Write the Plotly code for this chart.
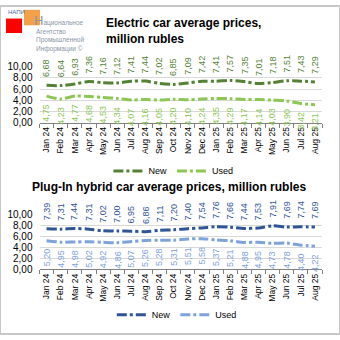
import plotly.graph_objects as go

months = ["Jan 24", "Feb 24", "Mar 24", "Apr 24", "May 24", "Jun 24", "Jul 24", "Aug 24",
          "Sep 24", "Oct 24", "Nov 24", "Dec 24", "Jan 25", "Feb 25", "Mar 25", "Apr 25",
          "May 25", "Jun 25", "Jul 25", "Aug 25"]

ev_new = [6.68, 6.64, 6.93, 7.36, 7.16, 7.12, 7.41, 7.44, 7.02, 6.85,
          7.09, 7.42, 7.41, 7.57, 7.35, 7.01, 7.18, 7.51, 7.43, 7.29]
ev_used = [4.75, 4.23, 4.77, 4.68, 4.53, 4.34, 4.07, 4.16, 4.05, 4.20,
           4.10, 4.24, 4.35, 4.29, 4.17, 4.14, 4.03, 3.90, 3.42, 3.21]
phev_new = [7.39, 7.31, 7.44, 7.31, 7.02, 7.00, 6.95, 6.86, 7.11, 7.20,
            7.40, 7.54, 7.76, 7.66, 7.44, 7.53, 7.91, 7.69, 7.74, 7.69]
phev_used = [5.20, 4.95, 4.98, 5.02, 4.92, 4.86, 5.07, 5.26, 5.28, 5.31,
             5.51, 5.58, 5.37, 5.21, 4.88, 4.95, 4.73, 4.78, 4.40, 4.22]

y_ticks = [0, 2, 4, 6, 8, 10]

title_top = "Electric car average prices,<br>million rubles"
title_bottom = "Plug-In hybrid car average prices, million rubles"

C_EV_NEW = "#548235"
C_EV_USED = "#8cc653"
C_PH_NEW = "#2f5597"
C_PH_USED = "#7ea2dc"

FONT = "Liberation Sans, Arial, sans-serif"
DASH = "10px,3px,3px,3px"
W, H = 340, 340


def px_x(p):
    return p / W


def px_y(p):
    return 1 - p / H


fig = go.Figure()

series = [
    (ev_new, "New", C_EV_NEW, "x", "y", "legend", True),
    (ev_used, "Used", C_EV_USED, "x", "y", "legend", False),
    (phev_new, "New", C_PH_NEW, "x2", "y2", "legend2", True),
    (phev_used, "Used", C_PH_USED, "x2", "y2", "legend2", False),
]

annotations = []
for vals, name, col, xa, ya, leg, above in series:
    fig.add_trace(go.Scatter(
        x=months, y=vals, name=name, mode="lines", xaxis=xa, yaxis=ya, legend=leg,
        line=dict(color=col, width=3, dash=DASH, shape="spline", smoothing=0.8),
        hoverinfo="skip",
    ))
    for m, v in zip(months, vals):
        annotations.append(dict(
            x=m, y=v, xref=xa, yref=ya, text=f"{v:.2f}".replace(".", ","),
            showarrow=False, textangle=-90,
            yanchor="bottom" if above else "top",
            yshift=7 if above else -7,
            font=dict(family=FONT, size=9, color=col),
            borderpad=0,
        ))

# titles
annotations.append(dict(
    xref="paper", yref="paper", x=px_x(104), y=px_y(8), xanchor="left", yanchor="top",
    align="left", showarrow=False, text="<b>" + title_top + "</b>",
    font=dict(family=FONT, size=12, color="#000000"),
))
annotations.append(dict(
    xref="paper", yref="paper", x=px_x(169), y=px_y(188), xanchor="center", yanchor="middle",
    showarrow=False, text="<b>" + title_bottom + "</b>",
    font=dict(family=FONT, size=12, color="#000000"),
))

# logo text
annotations.append(dict(
    xref="paper", yref="paper", x=px_x(6), y=px_y(6), xanchor="left", yanchor="middle",
    showarrow=False, text="НАПИ", font=dict(family=FONT, size=6, color="#4a6a9a"),
))
annotations.append(dict(
    xref="paper", yref="paper", x=px_x(32), y=px_y(15), xanchor="left", yanchor="middle",
    showarrow=False, text="<span style='font-size:13px'>Н</span>ациональное",
    font=dict(family=FONT, size=6.5, color="#8a96a8"),
))
annotations.append(dict(
    xref="paper", yref="paper", x=px_x(34), y=px_y(21), xanchor="left", yanchor="top",
    align="left", showarrow=False, text="Агентство<br>Промышленной<br>Информации ©",
    font=dict(family=FONT, size=6.5, color="#8a96a8"),
))

shapes = [
    dict(type="rect", xref="paper", yref="paper", x0=0, x1=1, y0=0, y1=1,
         line=dict(color="#c8c8c8", width=2), layer="above"),
    dict(type="rect", xref="paper", yref="paper", x0=px_x(6), x1=px_x(22), y0=px_y(28), y1=px_y(13),
         fillcolor="#ff0000", line=dict(width=0), layer="below"),
    dict(type="rect", xref="paper", yref="paper", x0=px_x(24), x1=px_x(40), y0=px_y(20), y1=px_y(4),
         fillcolor="#f4a047", line=dict(width=0), layer="below"),
]

xdom = [px_x(39.5), px_x(322)]
xcommon = dict(
    type="category", categoryorder="array", categoryarray=months,
    range=[-0.5, len(months) - 0.5], tickangle=-90, tickson="boundaries",
    ticks="outside", ticklen=4, tickcolor="#808080", showline=True, linecolor="#808080",
    linewidth=1, showgrid=False, tickfont=dict(family=FONT, size=8.5, color="#000000"),
    domain=xdom, fixedrange=True,
)
ycommon = dict(
    range=[0, 10], tickvals=y_ticks, tickformat=".2f", showgrid=True, gridcolor="#d9d9d9",
    gridwidth=1, zeroline=False, showline=False, ticks="", ticklabelstandoff=6,
    tickfont=dict(family=FONT, size=10, color="#000000"), fixedrange=True,
)

fig.update_layout(
    width=W, height=H, margin=dict(l=0, r=0, t=0, b=0),
    paper_bgcolor="#ffffff", plot_bgcolor="#ffffff",
    separators=", ",
    font=dict(family=FONT),
    xaxis=dict(xcommon, anchor="y"),
    yaxis=dict(ycommon, domain=[px_y(121), px_y(63)], anchor="x"),
    xaxis2=dict(xcommon, anchor="y2"),
    yaxis2=dict(ycommon, domain=[px_y(273), px_y(216)], anchor="x2"),
    legend=dict(orientation="h", x=0.51, xanchor="center", y=px_y(171), yanchor="middle",
                font=dict(family=FONT, size=9, color="#000000"), bgcolor="rgba(0,0,0,0)",
                itemwidth=30, tracegroupgap=0),
    legend2=dict(orientation="h", x=0.52, xanchor="center", y=px_y(320), yanchor="middle",
                 font=dict(family=FONT, size=9, color="#000000"), bgcolor="rgba(0,0,0,0)",
                 itemwidth=30, tracegroupgap=0),
    annotations=annotations,
    shapes=shapes,
    showlegend=True,
)

fig.write_html("out.html")
